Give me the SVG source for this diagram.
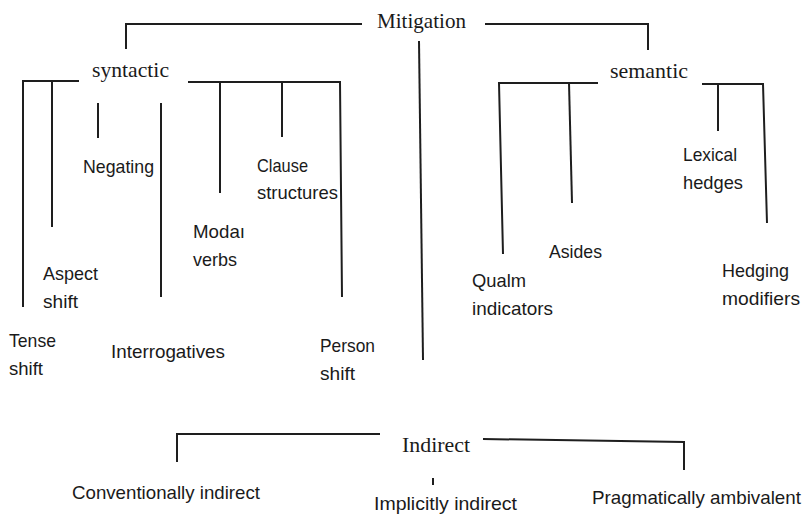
<svg xmlns="http://www.w3.org/2000/svg" width="803" height="515" viewBox="0 0 803 515">
<style>
.bg{fill:#ffffff}
.ln{fill:none;stroke:#1e1e1e;stroke-width:2;stroke-linecap:butt;stroke-linejoin:miter}
.serif{font-family:"Liberation Serif","Times New Roman",serif;font-size:22px;fill:#1a1a1a}
.sans{font-family:"Liberation Sans",Arial,sans-serif;font-size:19px;fill:#1a1a1a}
</style>
<rect class="bg" x="0" y="0" width="803" height="515"/>
<g id="connectors">
<path class="ln" d="M126,49 V24 H362"/>
<path class="ln" d="M485,24 H648 V50"/>
<path class="ln" d="M419,41 L423,360"/>
<path class="ln" d="M23,307 V81 H79"/>
<path class="ln" d="M52,81 V227"/>
<path class="ln" d="M98,103 V138"/>
<path class="ln" d="M161,103 V297"/>
<path class="ln" d="M188,82 H340 L342,297"/>
<path class="ln" d="M220,82 V193"/>
<path class="ln" d="M282,82 V137"/>
<path class="ln" d="M598,83 H499 L503,254"/>
<path class="ln" d="M569,83 L572,203"/>
<path class="ln" d="M702,84 H763 L767,223"/>
<path class="ln" d="M718,84 V131"/>
<path class="ln" d="M177,462 V434 H380"/>
<path class="ln" d="M483,439 L684,442 V470"/>
<path class="ln" d="M433,478 V485"/>
</g>
<g id="mitigation"><text class="serif" x="377" y="28" textLength="89" lengthAdjust="spacingAndGlyphs">Mitigation</text></g>
<g id="syntactic"><text class="serif" x="92" y="77" textLength="77" lengthAdjust="spacingAndGlyphs">syntactic</text></g>
<g id="semantic"><text class="serif" x="610" y="78" textLength="78" lengthAdjust="spacingAndGlyphs">semantic</text></g>
<g id="indirect"><text class="serif" x="402" y="452" textLength="68" lengthAdjust="spacingAndGlyphs">Indirect</text></g>
<g id="negating"><text class="sans" x="83" y="173" textLength="71" lengthAdjust="spacingAndGlyphs">Negating</text></g>
<g id="clause-structures"><text class="sans" x="257" y="172" textLength="51" lengthAdjust="spacingAndGlyphs">Clause</text><text class="sans" x="257" y="199" textLength="81" lengthAdjust="spacingAndGlyphs">structures</text></g>
<g id="modal-verbs"><text class="sans" x="193" y="238" textLength="52" lengthAdjust="spacingAndGlyphs">Modaı</text><text class="sans" x="193" y="266" textLength="44" lengthAdjust="spacingAndGlyphs">verbs</text></g>
<g id="aspect-shift"><text class="sans" x="43" y="280" textLength="55" lengthAdjust="spacingAndGlyphs">Aspect</text><text class="sans" x="43" y="308" textLength="35" lengthAdjust="spacingAndGlyphs">shift</text></g>
<g id="tense-shift"><text class="sans" x="9" y="347" textLength="47" lengthAdjust="spacingAndGlyphs">Tense</text><text class="sans" x="9" y="375" textLength="34" lengthAdjust="spacingAndGlyphs">shift</text></g>
<g id="interrogatives"><text class="sans" x="111" y="358" textLength="114" lengthAdjust="spacingAndGlyphs">Interrogatives</text></g>
<g id="person-shift"><text class="sans" x="320" y="352" textLength="55" lengthAdjust="spacingAndGlyphs">Person</text><text class="sans" x="320" y="380" textLength="35" lengthAdjust="spacingAndGlyphs">shift</text></g>
<g id="lexical-hedges"><text class="sans" x="683" y="161" textLength="54" lengthAdjust="spacingAndGlyphs">Lexical</text><text class="sans" x="683" y="189" textLength="60" lengthAdjust="spacingAndGlyphs">hedges</text></g>
<g id="asides"><text class="sans" x="549" y="258" textLength="53" lengthAdjust="spacingAndGlyphs">Asides</text></g>
<g id="qualm-indicators"><text class="sans" x="472" y="287" textLength="54" lengthAdjust="spacingAndGlyphs">Qualm</text><text class="sans" x="472" y="315" textLength="81" lengthAdjust="spacingAndGlyphs">indicators</text></g>
<g id="hedging-modifiers"><text class="sans" x="722" y="277" textLength="67" lengthAdjust="spacingAndGlyphs">Hedging</text><text class="sans" x="722" y="305" textLength="78" lengthAdjust="spacingAndGlyphs">modifiers</text></g>
<g id="conventionally-indirect"><text class="sans" x="72" y="499" textLength="188" lengthAdjust="spacingAndGlyphs">Conventionally indirect</text></g>
<g id="implicitly-indirect"><text class="sans" x="374" y="510" textLength="143" lengthAdjust="spacingAndGlyphs">Implicitly indirect</text></g>
<g id="pragmatically-ambivalent"><text class="sans" x="592" y="504" textLength="209" lengthAdjust="spacingAndGlyphs">Pragmatically ambivalent</text></g>
</svg>
